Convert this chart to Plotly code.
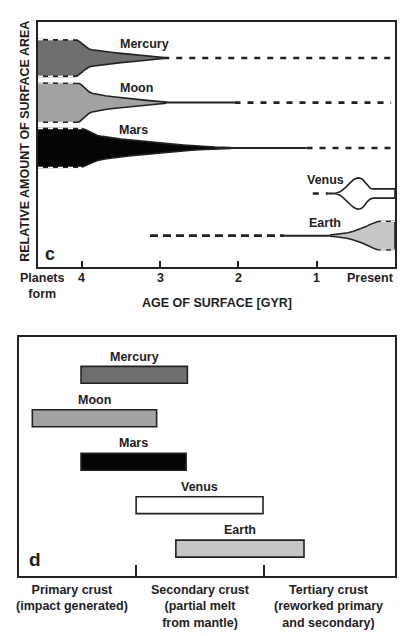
import plotly.graph_objects as go

# ---------------- data ----------------
planets = ["Mercury", "Moon", "Mars", "Venus", "Earth"]

# panel c: surface-age distributions (age in Gyr, half-width in relative units)
mercury_age = [4.56, 4.09, 4.06, 4.03, 4.0, 3.97, 3.94, 3.91, 3.87, 3.8, 3.7, 3.6, 3.5, 3.4, 3.3, 3.2, 3.1, 3.0, 2.96]
mercury_hw = [7.5, 7.5, 7.3, 6.7, 5.9, 5.0, 4.2, 3.7, 3.35, 3.0, 2.6, 2.25, 1.9, 1.6, 1.25, 0.95, 0.65, 0.35, 0.2]
moon_age = [4.56, 4.06, 4.03, 4.0, 3.97, 3.94, 3.91, 3.87, 3.8, 3.7, 3.6, 3.5, 3.4, 3.3, 3.2, 3.1, 3.0, 2.93]
moon_hw = [8.0, 8.0, 7.8, 7.1, 6.2, 5.2, 4.4, 3.8, 3.3, 2.8, 2.4, 2.0, 1.65, 1.3, 1.0, 0.7, 0.45, 0.25]
mars_age = [4.56, 4.0, 3.95, 3.9, 3.85, 3.8, 3.74, 3.68, 3.6, 3.5, 3.4, 3.3, 3.2, 3.1, 3.0,
            2.9, 2.8, 2.7, 2.6, 2.5, 2.4, 2.3, 2.2, 2.1]
mars_hw = [8.0, 7.9, 7.4, 6.6, 5.8, 5.1, 4.7, 4.4, 4.0, 3.6, 3.3, 2.95, 2.65, 2.35, 2.05,
           1.75, 1.45, 1.2, 0.95, 0.75, 0.55, 0.4, 0.28, 0.2]
venus_age = [0.77, 0.74, 0.71, 0.68, 0.65, 0.62, 0.59, 0.56, 0.53, 0.50, 0.47, 0.44, 0.41,
             0.38, 0.35, 0.32, 0.30, 0.28, 0.0]
venus_hw = [0.0, 0.25, 0.6, 1.15, 1.85, 2.8, 3.8, 4.8, 5.65, 6.1, 6.35, 6.2, 5.65,
            4.5, 3.2, 2.3, 1.95, 1.9, 1.9]
earth_age = [0.833, 0.75, 0.67, 0.6, 0.53, 0.47, 0.42, 0.37, 0.33, 0.29, 0.25, 0.22, 0.18, 0.0]
earth_hw = [0.2, 0.45, 0.8, 1.2, 1.75, 2.4, 3.0, 3.7, 4.4, 5.0, 5.5, 5.75, 5.85, 5.85]

# thin solid tails and dashed (uncertain) extents, in Gyr
solid_tail = {"Moon": (2.93, 2.05), "Mars": (2.1, 1.13), "Venus": (0.85, 0.77), "Earth": (1.41, 0.833)}
dashed_ext = {"Mercury": (2.96, 0.03), "Moon": (2.05, 0.05), "Mars": (1.13, 0.05),
              "Venus": (1.05, 0.85), "Earth": (3.13, 1.41)}
# age range of the flat (dashed-outline) part of each profile
flat_part = {"Mercury": (4.56, 4.09), "Moon": (4.56, 4.06), "Mars": (4.56, 4.0), "Earth": (0.18, 0.0)}

age_ticks = [4.56, 4, 3, 2, 1, 0]
age_ticktext = ["Planets<br>form", "4", "3", "2", "1", "Present"]

# panel d: crust types
crust_start = [0.57, 0.19, 0.57, 1.0, 1.31]
crust_end = [1.40, 1.16, 1.39, 1.99, 2.31]
crust_labels = ["Primary crust<br>(impact generated)",
                "Secondary crust<br>(partial melt<br>from mantle)",
                "Tertiary crust<br>(reworked primary<br>and secondary)"]
crust_label_pos = [0.5, 1.5, 2.5]

# ---------------- styles ----------------
fills = {"Mercury": "#6e6e6e", "Moon": "#a2a2a2", "Mars": "#050505", "Venus": "#ffffff", "Earth": "#c6c6c6"}
rows = {"Mercury": 85.3, "Moon": 67.1, "Mars": 48.6, "Venus": 30.0, "Earth": 12.8}
INK = "#222222"
TXT = "#1e1e1e"
FONT = "Liberation Sans, Arial, sans-serif"

profiles = {"Mercury": (mercury_age, mercury_hw), "Moon": (moon_age, moon_hw),
            "Mars": (mars_age, mars_hw), "Venus": (venus_age, venus_hw),
            "Earth": (earth_age, earth_hw)}

fig = go.Figure()

# dashed extensions and thin solid tails
for p in planets:
    c = rows[p]
    a0, a1 = dashed_ext[p]
    dash = "8px,5px" if p == "Earth" else "6px,7px"
    fig.add_trace(go.Scatter(x=[a0, a1], y=[c, c], mode="lines",
                             line=dict(color=INK, width=2.6, dash=dash),
                             xaxis="x", yaxis="y", hoverinfo="skip"))
    if p in solid_tail:
        s0, s1 = solid_tail[p]
        fig.add_trace(go.Scatter(x=[s0, s1], y=[c, c], mode="lines",
                                 line=dict(color=INK, width=2),
                                 xaxis="x", yaxis="y", hoverinfo="skip"))

# distribution shapes
for p in planets:
    c = rows[p]
    ages, hw = profiles[p]
    xs = list(ages) + list(ages[::-1])
    ys = [c + h for h in hw] + [c - h for h in hw[::-1]]
    fig.add_trace(go.Scatter(x=xs, y=ys, mode="lines", fill="toself",
                             fillcolor=fills[p],
                             line=dict(color=INK, width=1.6),
                             xaxis="x", yaxis="y", hoverinfo="skip"))
    if p in flat_part:
        f0, f1 = flat_part[p]
        top = max(hw[:2]) if p != "Earth" else hw[-1]
        for sgn in (1, -1):
            fig.add_trace(go.Scatter(x=[f0, f1], y=[c + sgn * top, c + sgn * top], mode="lines",
                                     line=dict(color="white", width=1.6, dash="5px,5px"),
                                     xaxis="x", yaxis="y", hoverinfo="skip"))

# panel d bars
ypos = [4, 3, 2, 1, 0]
fig.add_trace(go.Bar(orientation="h", y=ypos,
                     base=crust_start,
                     x=[e - s for s, e in zip(crust_start, crust_end)],
                     width=0.39,
                     marker=dict(color=[fills[p] for p in planets], line=dict(color=INK, width=1.6)),
                     xaxis="x2", yaxis="y2", hoverinfo="skip"))

ann = []
bold = dict(family=FONT, size=12.5, color=TXT, weight="bold")

# panel c labels
label_pos_c = {"Mercury": (3.20, 91.0), "Moon": (3.30, 73.1), "Mars": (3.34, 55.9),
               "Venus": (0.885, 35.5), "Earth": (0.90, 18.0)}
for p in planets:
    x, y = label_pos_c[p]
    ann.append(dict(x=x, y=y, xref="x", yref="y", text=p, showarrow=False, font=bold,
                    xanchor="center", yanchor="middle"))

# top axis tick labels
for v, t in zip(age_ticks, age_ticktext):
    if v == 0:
        xa, xs = "right", 1
    elif v == 4.56:
        xa, xs = "center", 4
    else:
        xa, xs = "center", 0
    ann.append(dict(x=v, y=0, xref="x", yref="y domain", text=t, showarrow=False, font=bold,
                    xanchor=xa, yanchor="top", xshift=xs, yshift=-2))
ann.append(dict(x=0.5, y=0, xref="x domain", yref="y domain", text="AGE OF SURFACE [GYR]",
                showarrow=False, font=bold, xanchor="center", yanchor="middle", yshift=-36))
ann.append(dict(x=25 / 411, y=0.777, xref="paper", yref="paper",
                text="RELATIVE AMOUNT OF SURFACE AREA", textangle=-90, showarrow=False,
                font=bold, xanchor="center", yanchor="middle"))
ann.append(dict(x=0.034, y=0.053, xref="x domain", yref="y domain", text="c", showarrow=False,
                font=dict(family=FONT, size=18, color=TXT, weight="bold"),
                xanchor="center", yanchor="middle"))

# panel d labels
for p, s, e, y in zip(planets, crust_start, crust_end, ypos):
    ann.append(dict(x=(s + e) / 2, y=y + 0.42, xref="x2", yref="y2", text=p, showarrow=False,
                    font=bold, xanchor="center", yanchor="middle"))
for v, t in zip(crust_label_pos, crust_labels):
    ann.append(dict(x=v, y=0, xref="x2", yref="y2 domain", text=t, showarrow=False, font=bold,
                    xanchor="center", yanchor="top", yshift=-5))
ann.append(dict(x=0.043, y=0.071, xref="x2 domain", yref="y2 domain", text="d", showarrow=False,
                font=dict(family=FONT, size=19, color=TXT, weight="bold"),
                xanchor="center", yanchor="middle"))

frame = dict(showline=True, mirror=True, linecolor=INK, linewidth=2, showgrid=False,
             zeroline=False, fixedrange=True)

fig.update_layout(
    width=411, height=636,
    margin=dict(l=0, r=0, t=0, b=0),
    paper_bgcolor="white", plot_bgcolor="white",
    showlegend=False,
    font=dict(family=FONT, color=TXT),
    xaxis=dict(domain=[38 / 411, 395 / 411], range=[4.56, 0], anchor="y",
               tickvals=[4, 3, 2, 1], ticktext=["", "", "", ""], ticks="inside",
               ticklen=6, tickwidth=2, tickcolor=INK, **frame),
    yaxis=dict(domain=[1 - 267 / 636, 1 - 22 / 636], range=[0, 100], anchor="x",
               showticklabels=False, ticks="", **frame),
    xaxis2=dict(domain=[19 / 411, 395 / 411], range=[0.086, 3.02], anchor="y2",
                tickvals=[1, 2], ticktext=["", ""], ticks="inside",
                ticklen=11, tickwidth=2, tickcolor=INK, **frame),
    yaxis2=dict(domain=[1 - 576 / 636, 1 - 337 / 636], range=[-0.63, 4.87], anchor="x2",
                showticklabels=False, ticks="", **frame),
    annotations=ann,
)

fig.write_html("out.html", config={"displayModeBar": False},
               post_script="document.body.style.margin='0px';document.body.style.overflow='hidden';")
